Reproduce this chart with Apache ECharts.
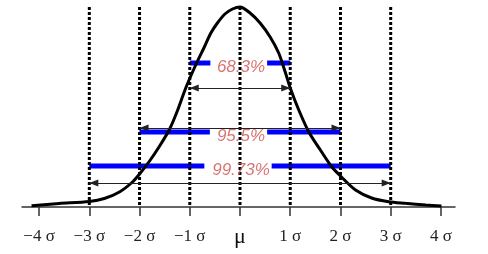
<!DOCTYPE html>
<html>
<head>
<meta charset="utf-8">
<script src="https://cdn.jsdelivr.net/npm/echarts@6/dist/echarts.min.js"></script>
<style>
html,body{margin:0;padding:0;background:#fff;}
#chart{width:488px;height:254px;}
</style>
</head>
<body>
<div id="chart"></div>
<script>
// ---- data ----
const curveSigma   = [-4.15,-3.6,-3.0,-2.7,-2.4,-2.14,-2.0,-1.8,-1.6,-1.4,-1.24,-1.08,-0.9,-0.71,-0.58,-0.45,-0.3,-0.15,0.0,0.2,0.4,0.6,0.77,0.9,1.0,1.17,1.37,1.6,1.83,2.02,2.3,2.62,2.96,3.29,3.7,4.01];
const curveDensity = [1.3,3.5,5.5,8.5,15,25,33,46,61,78,97,119,140,160,174,184,193,198,200,194,184,170,154,135,119,97,75,57,40,30,17,9,5.3,3.7,2,1];

const sigmaLines = [-3,-2,-1,0,1,2,3];
const sigmaLineTop = 200;

const tickValues = [-4,-3,-2,-1,0,1,2,3,4];
const tickLabels = ['−4 σ','−3 σ','−2 σ','−1 σ','μ','1 σ','2 σ','3 σ','4 σ'];

const intervalNames = ['68.3%','95.5%','99.73%'];
const intervalHalf  = [1,2,3];
const bandLevel     = [144,75,41];
const bandGapFrom   = [-0.59,-0.6,-0.71];
const bandGapTo     = [0.54,0.54,0.63];
const arrowLevel    = [119,79,24];

// ---- build options ----
const series = [];

// blue bands (two segments each, gap around the label)
intervalNames.forEach((n,i)=>{
  [[-intervalHalf[i], bandGapFrom[i]],[bandGapTo[i], intervalHalf[i]]].forEach(seg=>{
    series.push({
      type:'line', silent:true, z:1, showSymbol:false, symbol:'none',
      data:[[seg[0],bandLevel[i]],[seg[1],bandLevel[i]]],
      lineStyle:{color:'#0000ff',width:5,cap:'butt'}
    });
  });
});

// dotted sigma lines
sigmaLines.forEach(s=>{
  series.push({
    type:'line', silent:true, z:3, symbol:'none',
    data:[[s,sigmaLineTop],[s,0]],
    lineStyle:{color:'#000',width:3,type:[3,2],cap:'butt'}
  });
});

// the bell curve + arrows
series.push({
  type:'line', silent:true, z:4, symbol:'none', smooth:0.3,
  data:curveSigma.map((s,i)=>[s,curveDensity[i]]),
  lineStyle:{color:'#000',width:3},
  markLine:{
    silent:true, animation:false,
    symbol:['triangle','triangle'],
    symbolSize:[7,9],
    symbolOffset:[[0,4.5],[0,4.5]],
    label:{show:false},
    lineStyle:{color:'#222',width:1,type:'solid'},
    emphasis:{disabled:true},
    data:intervalNames.map((n,i)=>[{coord:[-intervalHalf[i],arrowLevel[i]]},{coord:[intervalHalf[i],arrowLevel[i]]}])
  }
});

// percentage labels
series.push({
  type:'scatter', silent:true, z:5, symbolSize:0,
  data:intervalNames.map((n,i)=>({name:n,value:[0,bandLevel[i]]})),
  label:{
    show:true, position:'inside', offset:[1,4],
    formatter:p=>p.name,
    fontFamily:'Liberation Sans', fontStyle:'italic', fontSize:17,
    color:'#d05050'
  }
});

const option = {
  animation:false,
  backgroundColor:'#fff',
  grid:{left:22,right:33,top:0,bottom:47},
  xAxis:{
    type:'value', min:-4.34, max:4.28,
    splitLine:{show:false},
    axisLine:{show:true,lineStyle:{color:'#333',width:1.5}},
    axisTick:{show:true,customValues:tickValues,length:9,inside:false,lineStyle:{color:'#333',width:1.5}},
    axisLabel:{
      show:true, customValues:tickValues, margin:19,
      formatter:function(v){
        const i = tickValues.indexOf(Math.round(v));
        const t = tickLabels[i];
        return t==='μ' ? '{mu|'+t+'}' : '{n|'+t+'}';
      },
      rich:{
        n:{fontFamily:'Liberation Serif',fontSize:17,lineHeight:22,color:'#222'},
        mu:{fontFamily:'Liberation Serif',fontSize:22,lineHeight:22,color:'#111'}
      }
    }
  },
  yAxis:{type:'value',min:0,max:207,show:false,splitLine:{show:false}},
  series:series
};

const chart = echarts.init(document.getElementById('chart'),null,{renderer:'canvas'});
chart.setOption(option);
</script>
</body>
</html>
